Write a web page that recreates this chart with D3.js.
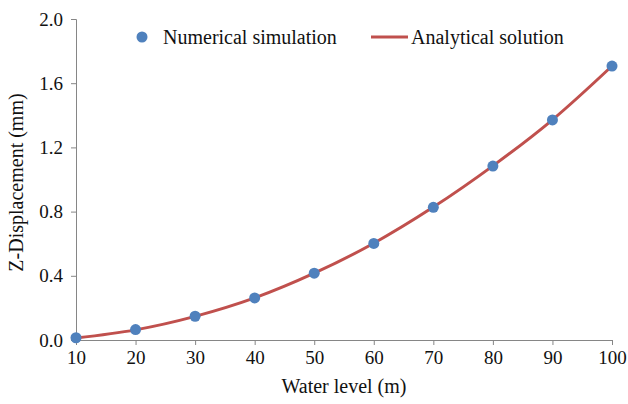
<!DOCTYPE html>
<html>
<head>
<meta charset="utf-8">
<script src="https://cdn.jsdelivr.net/npm/d3@7"></script>
<style>
  body { margin: 0; background: #fff; }
  svg text { font-family: "Liberation Serif", "Times New Roman", serif; fill: #111; }
</style>
</head>
<body>
<svg id="chart" width="628" height="404"></svg>
<script>
// water level (m)
var levels = [10, 20, 30, 40, 50, 60, 70, 80, 90, 100];
// numerical simulation, Z-displacement (mm)
var numerical = [0.014, 0.065, 0.148, 0.262, 0.416, 0.602, 0.827, 1.084, 1.371, 1.707];
// analytical solution, Z-displacement (mm)
var analytical = [0.012, 0.063, 0.147, 0.262, 0.416, 0.603, 0.828, 1.085, 1.372, 1.707];
var xTicks = [10, 20, 30, 40, 50, 60, 70, 80, 90, 100];
var yTicks = [0, 0.4, 0.8, 1.2, 1.6, 2.0];

var svg = d3.select('#chart');
var serif = '"Liberation Serif", "Times New Roman", serif';

var padL = 76, padR = 612, padT = 19, padB = 340;

var x = d3.scaleLinear().domain([10, 100]).range([padL, padR]);
var y = d3.scaleLinear().domain([0, 2]).range([padB, padT]);

var axisColor = '#868686';

// x axis
var xAxis = svg.append('g')
  .attr('transform', 'translate(0,' + padB + ')')
  .call(d3.axisBottom(x).tickValues(xTicks).tickSize(5).tickPadding(6).tickFormat(d3.format('d')))
  .attr('font-family', serif);
xAxis.select('.domain').attr('stroke', axisColor);
xAxis.selectAll('.tick line').attr('stroke', axisColor);
xAxis.selectAll('text').style('font-size', '19px').attr('fill', '#111');

// y axis
var yAxis = svg.append('g')
  .attr('transform', 'translate(' + padL + ',0)')
  .call(d3.axisLeft(y).tickValues(yTicks).tickSize(5).tickPadding(8).tickFormat(d3.format('.1f')))
  .attr('font-family', serif);
yAxis.select('.domain').attr('stroke', axisColor);
yAxis.selectAll('.tick line').attr('stroke', axisColor);
yAxis.selectAll('text').style('font-size', '19px').attr('fill', '#111');

// axis titles
svg.append('text')
  .attr('x', (padL + padR) / 2)
  .attr('y', 393)
  .attr('text-anchor', 'middle')
  .style('font-size', '20px')
  .text('Water level (m)');

svg.append('text')
  .attr('transform', 'translate(23,' + ((padT + padB) / 2 + 3) + ') rotate(-90)')
  .attr('text-anchor', 'middle')
  .style('font-size', '20px')
  .text('Z-Displacement (mm)');

// analytical line
var line = d3.line()
  .x(function(d, i){ return x(levels[i]); })
  .y(function(d){ return y(d); })
  .curve(d3.curveCatmullRom.alpha(0.5));

svg.append('path')
  .datum(analytical)
  .attr('d', line)
  .attr('fill', 'none')
  .attr('stroke', '#C0504D')
  .attr('stroke-width', 3);

// numerical points
svg.selectAll('.pt')
  .data(numerical)
  .enter().append('circle')
  .attr('class', 'pt')
  .attr('cx', function(d, i){ return x(levels[i]); })
  .attr('cy', function(d){ return y(d); })
  .attr('r', 5.5)
  .attr('fill', '#4F81BD');

// legend
var legend = svg.append('g');
legend.append('circle')
  .attr('cx', 142).attr('cy', 37).attr('r', 5.5)
  .attr('fill', '#4F81BD');
legend.append('text')
  .attr('x', 163).attr('y', 44)
  .style('font-size', '20px')
  .text('Numerical simulation');
legend.append('line')
  .attr('x1', 371).attr('x2', 408)
  .attr('y1', 37).attr('y2', 37)
  .attr('stroke', '#C0504D').attr('stroke-width', 3);
legend.append('text')
  .attr('x', 411).attr('y', 44)
  .style('font-size', '20px')
  .text('Analytical solution');
</script>
</body>
</html>
